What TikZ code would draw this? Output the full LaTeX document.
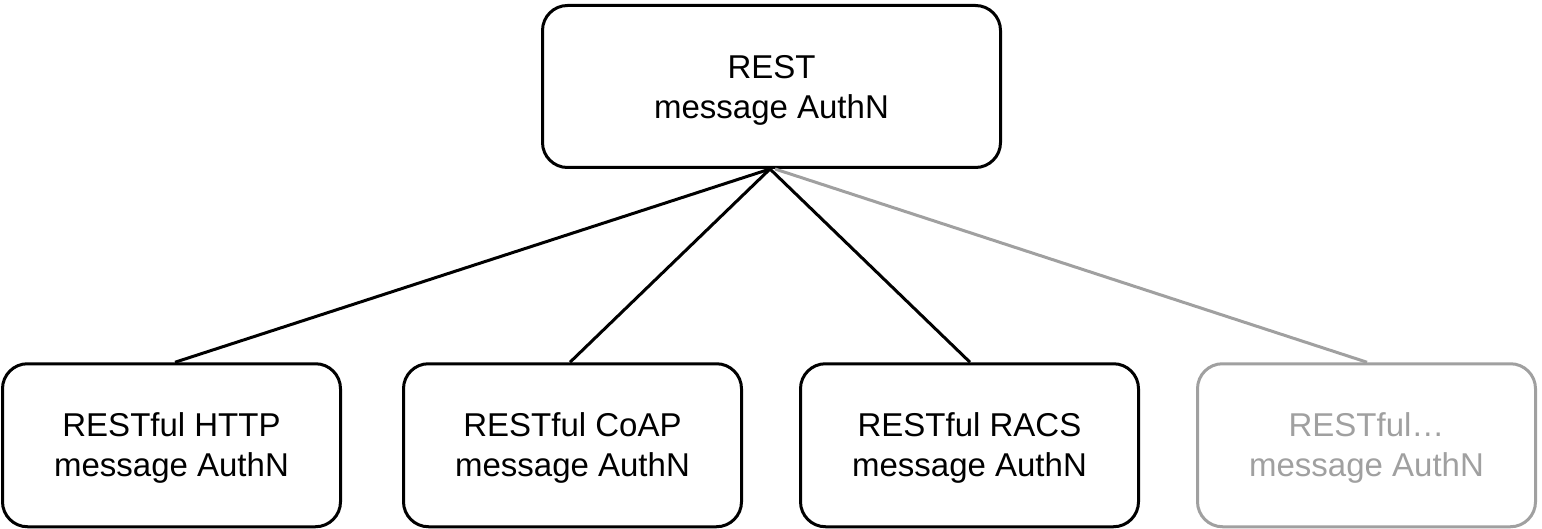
\documentclass[tikz,border=0pt]{standalone}
\usepackage{fontspec}
\setmainfont{Liberation Sans}
\definecolor{ghost}{HTML}{A0A0A0}
\newcommand{\lift}{\rule{0pt}{30pt}}
\begin{document}
\begin{tikzpicture}[x=1pt,y=-1pt,
  box/.style={draw=black,line width=3pt,rounded corners=25pt,align=center,
    font=\fontsize{33}{40}\selectfont,inner sep=0pt},
  topbox/.style={box,minimum width=458pt,minimum height=162pt},
  leafbox/.style={box,minimum width=338pt,minimum height=163pt},
  ghostbox/.style={leafbox,draw=ghost,text=ghost},
  link/.style={line width=3pt,draw=black},
  ghostlink/.style={link,draw=ghost}]
\useasboundingbox (0,0) rectangle (1542,529);
\node[topbox] (top) at (771.5,86.5) {\lift REST\\message AuthN};
\node[leafbox] (b1) at (171.5,445.25) {\lift RESTful HTTP\\message AuthN};
\node[leafbox] (b2) at (572.5,445.25) {\lift RESTful CoAP\\message AuthN};
\node[leafbox] (b3) at (969.5,445.25) {\lift RESTful RACS\\message AuthN};
\node[ghostbox] (b4) at (1366.5,445.25) {\lift RESTful\dots\\message AuthN};
\draw[ghostlink] ([xshift=3.5pt]top.south) -- ([xshift=0.5pt]b4.north);
\draw[link] ([xshift=-1.5pt]top.south) -- ([xshift=3.5pt]b1.north);
\draw[link] ([xshift=-1.5pt]top.south) -- ([xshift=-2.5pt]b2.north);
\draw[link] ([xshift=-1.5pt]top.south) -- ([xshift=0.5pt]b3.north);
\end{tikzpicture}
\end{document}
